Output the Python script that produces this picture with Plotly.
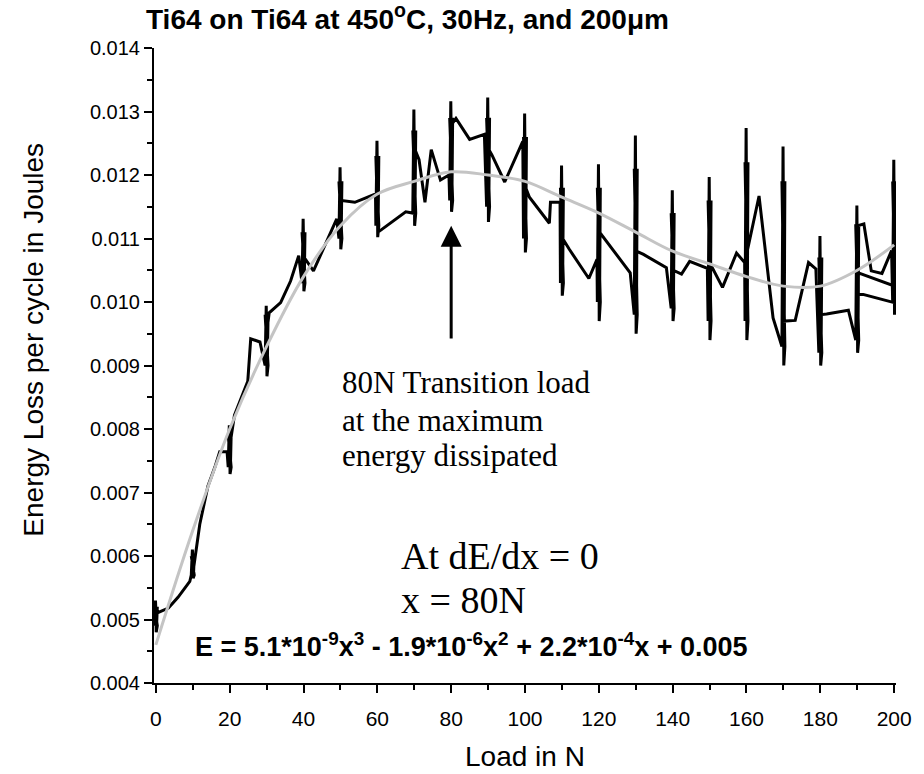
import plotly.graph_objects as go

# ---- data ----
# black measured curve: each load step (0,10,...,200 N) is a dense vertical burst,
# joined by the wandering line between steps
load = [
    -0.4, -0.1, 0.2, 0.4, -0.3, 0.0, 0.1, 0.4, -0.4, 0.2,
    3.4, 6.0, 9.2,
    9.6, 9.9, 10.2, 10.4, 9.7, 10.0, 10.1, 10.4, 9.6, 10.2,
    11.9, 14.1, 16.0, 17.3, 19.3,
    19.6, 19.9, 20.2, 20.4, 19.7, 20.0, 20.1, 20.4, 19.6, 20.2,
    21.3, 24.9, 25.7, 28.2,
    29.6, 29.9, 30.2, 30.4, 29.7, 30.0, 30.1, 30.4, 29.6, 30.2,
    30.7, 33.8, 36.5, 38.7,
    39.6, 39.9, 40.2, 40.4, 39.7, 40.0, 40.1, 40.4, 39.6, 40.2,
    42.7, 49.0,
    49.6, 49.9, 50.2, 50.4, 49.7, 50.0, 50.1, 50.4, 49.6, 50.2,
    53.9, 59.5,
    59.6, 59.9, 60.2, 60.4, 59.7, 60.0, 60.1, 60.4, 59.6, 60.2,
    67.7,
    69.6, 69.9, 70.2, 70.4, 69.7, 70.0, 70.1, 70.4, 69.6, 70.2,
    71.3, 72.9, 74.6, 77.1, 79.4,
    79.6, 79.9, 80.2, 80.4, 79.7, 80.0, 80.1, 80.4, 79.6, 80.2,
    81.3, 85.0, 89.0,
    89.6, 89.9, 90.2, 90.4, 89.7, 90.0, 90.1, 90.4, 89.6, 90.2,
    91.0, 94.5, 99.4,
    99.6, 99.9, 100.2, 100.4, 99.7, 100.0, 100.1, 100.4, 99.6, 100.2,
    101.2, 106.6, 106.9, 109.5,
    109.6, 109.9, 110.2, 110.4, 109.7, 110.0, 110.1, 110.4, 109.6, 110.2,
    112.0, 117.3, 119.5,
    119.6, 119.9, 120.2, 120.4, 119.7, 120.0, 120.1, 120.4, 119.6, 120.2,
    128.5,
    129.6, 129.9, 130.2, 130.4, 129.7, 130.0, 130.1, 130.4, 129.6, 130.2,
    132.1, 138.3,
    139.6, 139.9, 140.2, 140.4, 139.7, 140.0, 140.1, 140.4, 139.6, 140.2,
    142.4, 144.6, 149.4,
    149.6, 149.9, 150.2, 150.4, 149.7, 150.0, 150.1, 150.4, 149.6, 150.2,
    153.5, 157.3, 159.5,
    159.6, 159.9, 160.2, 160.4, 159.7, 160.0, 160.1, 160.4, 159.6, 160.2,
    163.4, 167.2,
    169.6, 169.9, 170.2, 170.4, 169.7, 170.0, 170.1, 170.4, 169.6, 170.2,
    173.2, 176.8, 178.8,
    179.6, 179.9, 180.2, 180.4, 179.7, 180.0, 180.1, 180.4, 179.6, 180.2,
    181.7, 187.6,
    189.6, 189.9, 190.2, 190.4, 189.7, 190.0, 190.1, 190.4, 189.6, 190.2,
    191.8, 193.8, 196.7, 199.3,
    199.6, 199.9, 200.2, 200.4, 199.7, 200.0, 200.1, 200.4, 199.6, 200.2,
    190.3, 190.3, 200.0, 200.0,
]
energy = [
    0.0049, 0.0053, 0.0049, 0.0052, 0.0049, 0.0052, 0.0048, 0.0049, 0.0052, 0.0051,
    0.00518, 0.00535, 0.00560,
    0.0057, 0.0061, 0.0057, 0.0060, 0.0057, 0.0060, 0.00565, 0.0057, 0.0060, 0.0058,
    0.0065, 0.0071, 0.0074, 0.00764, 0.00764,
    0.0074, 0.00806, 0.0074, 0.0079, 0.0074, 0.0079, 0.00729, 0.0074, 0.0079, 0.0078,
    0.00822, 0.00875, 0.00942, 0.00937,
    0.0090, 0.00994, 0.0090, 0.0098, 0.0090, 0.0098, 0.00883, 0.0090, 0.0098, 0.0096,
    0.00983, 0.00999, 0.01033, 0.01073,
    0.0103, 0.01131, 0.0103, 0.0111, 0.0103, 0.0111, 0.01017, 0.0103, 0.0111, 0.0107,
    0.01049, 0.01131,
    0.0110, 0.01212, 0.0110, 0.0119, 0.0110, 0.0119, 0.01083, 0.0110, 0.0119, 0.0116,
    0.01157, 0.0117,
    0.0112, 0.01254, 0.0112, 0.0123, 0.0112, 0.0123, 0.01102, 0.0112, 0.0123, 0.0111,
    0.01142,
    0.0114, 0.01303, 0.0114, 0.0127, 0.0114, 0.0127, 0.0112, 0.0114, 0.0127, 0.0124,
    0.01224, 0.01157, 0.0124, 0.01192, 0.0120,
    0.0116, 0.01316, 0.0116, 0.0129, 0.0116, 0.0129, 0.01142, 0.0116, 0.0129, 0.0128,
    0.01289, 0.01256, 0.01264,
    0.0115, 0.01322, 0.0115, 0.0129, 0.0115, 0.0129, 0.01126, 0.0115, 0.0129, 0.0124,
    0.01232, 0.01189, 0.01253,
    0.0110, 0.01297, 0.0110, 0.0126, 0.0110, 0.0126, 0.01078, 0.0110, 0.0126, 0.0118,
    0.01165, 0.01124, 0.01157, 0.01157,
    0.0103, 0.01215, 0.0103, 0.0118, 0.0103, 0.0118, 0.0101, 0.0103, 0.0118, 0.0110,
    0.01083, 0.01037, 0.01067,
    0.0100, 0.01217, 0.0100, 0.0118, 0.0100, 0.0118, 0.0097, 0.0100, 0.0118, 0.0111,
    0.01046,
    0.0098, 0.01262, 0.0098, 0.0121, 0.0098, 0.0121, 0.0095, 0.0098, 0.0121, 0.0108,
    0.01075, 0.01054,
    0.0099, 0.01176, 0.0099, 0.0114, 0.0099, 0.0114, 0.0097, 0.0099, 0.0114, 0.0105,
    0.01044, 0.01064, 0.01053,
    0.0097, 0.01197, 0.0097, 0.0116, 0.0097, 0.0116, 0.0094, 0.0097, 0.0116, 0.0106,
    0.01023, 0.01077, 0.01062,
    0.0097, 0.01274, 0.0097, 0.0122, 0.0097, 0.0122, 0.0094, 0.0097, 0.0122, 0.0108,
    0.01167, 0.00975,
    0.0093, 0.01245, 0.0093, 0.0119, 0.0093, 0.0119, 0.0090, 0.0093, 0.0119, 0.0097,
    0.00971, 0.01062, 0.01052,
    0.0092, 0.01104, 0.0092, 0.0107, 0.0092, 0.0107, 0.0090, 0.0092, 0.0107, 0.0098,
    0.00981, 0.00987,
    0.0094, 0.01152, 0.0094, 0.0112, 0.0094, 0.0112, 0.0092, 0.0094, 0.0112, 0.0112,
    0.01123, 0.01049, 0.01045, 0.01081,
    0.0100, 0.01224, 0.0100, 0.0119, 0.0100, 0.0119, 0.0098, 0.0100, 0.0119, 0.01025,
    0.01046, 0.01014, 0.00999, 0.0102,
]
# grey cubic fit curve
fit_load = [0, 10, 20, 30, 40, 50, 60, 70, 80, 90, 100,
            110, 120, 130, 140, 150, 160, 170, 180, 190, 200]
fit_energy = [0.0046, 0.0064, 0.0080, 0.0093, 0.0104, 0.0112, 0.0117, 0.0119, 0.01205, 0.0120, 0.0119,
              0.01165, 0.0114, 0.0111, 0.0108, 0.0106, 0.0104, 0.01025, 0.01025, 0.0105, 0.0109]

title_text = "<b>Ti64 on Ti64 at 450<sup>o</sup>C, 30Hz, and 200\u03bcm</b>"
x_title = "Load in N"
y_title = "Energy Loss per cycle in Joules"
note_lines = ["80N Transition load", "at the maximum", "energy dissipated"]
note_y = [0.00873, 0.00814, 0.00758]
deriv_lines = ["At dE/dx = 0", "x = 80N"]
deriv_y = [0.0060, 0.0053]
equation = ("<b>E = 5.1*10<sup>-9</sup>x<sup>3</sup> - 1.9*10<sup>-6</sup>x<sup>2</sup>"
            " + 2.2*10<sup>-4</sup>x + 0.005</b>")

W, H = 924, 774
L, R, T, B = 154, 24, 48, 91
pw, ph = W - L - R, H - T - B

fig = go.Figure()
fig.add_trace(go.Scatter(x=load, y=energy, mode="lines",
                         line=dict(color="black", width=3), showlegend=False))
fig.add_trace(go.Scatter(x=fit_load, y=fit_energy, mode="lines",
                         line=dict(color="#c4c4c4", width=3, shape="spline", smoothing=1.0),
                         showlegend=False))

sans = "Liberation Sans, Arial, sans-serif"
serif = "Liberation Serif, Times New Roman, serif"

fig.update_layout(
    width=W, height=H,
    margin=dict(l=L, r=R, t=T, b=B),
    paper_bgcolor="white", plot_bgcolor="white",
    title=dict(text=title_text, x=146 / W, xanchor="left", xref="container",
               y=1 - 19 / H, yanchor="middle", yref="container",
               font=dict(family=sans, size=28, color="black")),
    font=dict(family=sans, color="black"),
)
fig.update_xaxes(range=[-0.5, 200.5], showline=True, linecolor="black", linewidth=2,
                 ticks="outside", ticklen=8, tickwidth=2, tickcolor="black",
                 tick0=0, dtick=20, showgrid=False, zeroline=False, ticklabelstandoff=8,
                 tickfont=dict(family=sans, size=21, color="black"),
                 minor=dict(ticks="outside", ticklen=5, tickwidth=2, tickcolor="black", dtick=10, showgrid=False))
fig.update_yaxes(range=[0.004, 0.014], showline=True, linecolor="black", linewidth=2,
                 ticks="outside", ticklen=8, tickwidth=2, tickcolor="black",
                 tick0=0.004, dtick=0.001, tickformat=".3f", showgrid=False, zeroline=False,
                 tickfont=dict(family=sans, size=20, color="black"),
                 minor=dict(ticks="outside", ticklen=5, tickwidth=2, tickcolor="black", dtick=0.0005, showgrid=False))

# axis titles
fig.add_annotation(x=(32 - L) / pw, y=(H - B - 340) / ph, xref="paper", yref="paper",
                   text=y_title, textangle=-90, showarrow=False, xanchor="center", yanchor="middle",
                   font=dict(family=sans, size=28, color="black"))
fig.add_annotation(x=(527 - L) / pw, y=(H - B - 756) / ph, xref="paper", yref="paper",
                   text=x_title, showarrow=False, xanchor="center", yanchor="middle",
                   font=dict(family=sans, size=28, color="black"))

# arrow pointing to the 80 N maximum
fig.add_annotation(x=80, y=0.0112, ax=80, ay=0.0094, xref="x", yref="y", axref="x", ayref="y",
                   text="", showarrow=True, arrowhead=2, arrowsize=1.4, arrowwidth=3, arrowcolor="black")

for t, yy in zip(note_lines, note_y):
    fig.add_annotation(x=49.9, y=yy, xref="x", yref="y", text=t, showarrow=False,
                       xanchor="left", yanchor="middle",
                       font=dict(family=serif, size=31, color="black"))
for t, yy in zip(deriv_lines, deriv_y):
    fig.add_annotation(x=66.0, y=yy, xref="x", yref="y", text=t, showarrow=False,
                       xanchor="left", yanchor="middle",
                       font=dict(family=serif, size=38, color="black"))
fig.add_annotation(x=10.0, y=0.0046, xref="x", yref="y", text=equation, showarrow=False,
                   xanchor="left", yanchor="middle",
                   font=dict(family=sans, size=27, color="black"))

fig.write_html("out.html")
